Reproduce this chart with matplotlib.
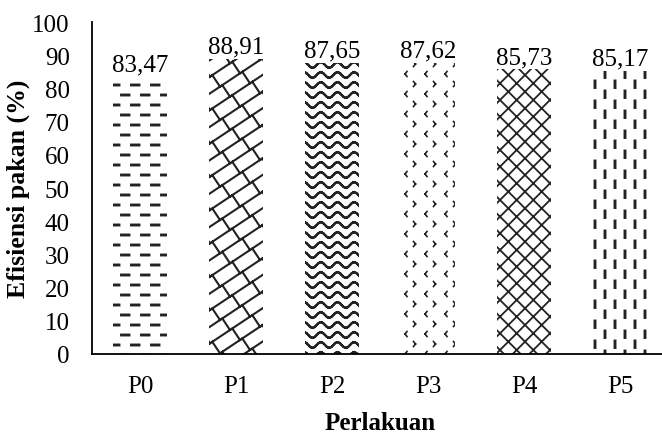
import warnings
import numpy as np
import matplotlib
matplotlib.use("Agg")
import matplotlib.pyplot as plt
from matplotlib import hatch as mhatch
from matplotlib.path import Path

warnings.filterwarnings("ignore")

# data
perlakuan = ["P0", "P1", "P2", "P3", "P4", "P5"]
efisiensi = [83.47, 88.91, 87.65, 87.62, 85.73, 85.17]
label_teks = ["83,47", "88,91", "87,65", "87,62", "85,73", "85,17"]
# a = garis putus mendatar, b = bata miring, w = gelombang,
# c = tanda < >, x = jaring, e = garis putus tegak
pola = ["a", "b", "w", "c", "xx", "e"]


def geser(segs):
    # salin ke tetangga supaya pola menyambung antar ubin
    out = []
    for p in segs:
        for dx in (-1, 0, 1):
            for dy in (-1, 0, 1):
                out.append(p + np.array([dx, dy]))
    return out


def pola_a():
    segs = []
    for r in range(10):
        y = (r + 0.5) / 10
        off = 0.1 if r % 2 else 0.0
        for j in range(5):
            x0 = j / 5 + off + 0.015
            segs.append(np.array([[x0, y], [x0 + 0.075, y]]))
    return geser(segs)


def pola_e():
    segs = []
    for k in range(10):
        x = (k + 0.5) / 10
        off = 0.1 if k % 2 else 0.0
        for j in range(5):
            y0 = j / 5 + off + 0.025
            segs.append(np.array([[x, y0], [x, y0 + 0.065]]))
    return geser(segs)


def pola_b():
    s, n, m = 2 / 3, 6, 5
    segs = []
    for k in range(-3 * n, 3 * n):
        c = k / n
        segs.append(np.array([[-1.0, -s + c], [2.0, 2 * s + c]]))
    t = 1 / (n * (1 + s * s))
    for k in range(-2 * n, 2 * n):
        c = k / n
        for j in range(-2 * m, 3 * m):
            x0 = j / m + (0.5 / m if k % 2 else 0.0)
            y0 = s * x0 + c
            if -0.3 < x0 < 1.3 and -0.3 < y0 < 1.3:
                segs.append(np.array([[x0, y0], [x0 - s * t, y0 + t]]))
    return segs


def pola_w():
    segs = []
    xs = np.linspace(0, 1, 61)
    for r in range(10):
        y = (r + 0.5) / 10 + 0.028 * np.sin(2 * np.pi * 6 * xs)
        for i in range(len(xs) - 1):
            segs.append(np.array([[xs[i], y[i]], [xs[i + 1], y[i + 1]]]))
    return geser(segs)


def pola_c():
    segs = []
    w, h = 0.02, 0.025
    for i in range(5):
        for j in range(5):
            x, y = i / 5 + 0.05, j / 5 + 0.06
            segs.append(np.array([[x + w, y + h], [x, y]]))
            segs.append(np.array([[x, y], [x + w, y - h]]))
            x2, y2 = x + 0.105, y + 0.1
            segs.append(np.array([[x2 - w, y2 + h], [x2, y2]]))
            segs.append(np.array([[x2, y2], [x2 - w, y2 - h]]))
    return geser(segs)


pembuat = {"a": pola_a, "b": pola_b, "w": pola_w, "c": pola_c, "e": pola_e}


class PolaKhusus(mhatch.HatchPatternBase):
    def __init__(self, hatch, density):
        self.segs = []
        for ch, f in pembuat.items():
            if ch in hatch:
                self.segs += f()
        self.num_vertices = 2 * len(self.segs)

    def set_vertices_and_codes(self, vertices, codes):
        for i, p in enumerate(self.segs):
            vertices[2 * i:2 * i + 2] = p
        codes[0::2] = Path.MOVETO
        codes[1::2] = Path.LINETO


mhatch._hatch_types.append(PolaKhusus)

plt.rcParams['font.family'] = ['Liberation Serif', 'DejaVu Serif']
plt.rcParams['path.simplify'] = False
plt.rcParams['hatch.linewidth'] = 1.5
plt.rcParams['hatch.color'] = '#222222'

fig = plt.figure(figsize=(6.62, 4.35), dpi=100)
ax = fig.add_axes([0.139, 0.184, 0.870, 0.763])

x = np.arange(len(perlakuan))
bars = ax.bar(x, efisiensi, width=0.57, color="white", edgecolor="#222222",
              linewidth=0)
tebal = {"a": 2.1, "e": 2.1, "b": 1.5, "w": 1.6, "c": 1.2, "xx": 1.3}
for b, h in zip(bars, pola):
    b.set_hatch(h)
    if hasattr(b, "set_hatch_linewidth"):
        b.set_hatch_linewidth(tebal[h])

for xi, v, t in zip(x, efisiensi, label_teks):
    ax.text(xi, v + 0.4, t, ha="center", va="bottom", fontsize=18)

ax.set_xlim(-0.5, len(perlakuan) - 0.5)
ax.set_ylim(0, 100)
ax.set_yticks(range(0, 101, 10))
ax.set_xticks(x)
ax.set_xticklabels(perlakuan)
ax.tick_params(axis="both", length=0, labelsize=18)
ax.tick_params(axis="x", pad=15)
ax.tick_params(axis="y", pad=16)
ax.spines["top"].set_visible(False)
ax.spines["right"].set_visible(False)
ax.spines["left"].set_linewidth(1.3)
ax.spines["bottom"].set_linewidth(1.3)

ax.set_xlabel("Perlakuan", fontsize=18, fontweight="bold")
ax.set_ylabel("Efisiensi pakan (%)", fontsize=18.5, fontweight="bold")
ax.xaxis.set_label_coords(0.5, -0.172)
ax.yaxis.set_label_coords(-0.107, 0.5)

fig.savefig("out.png", dpi=100)
